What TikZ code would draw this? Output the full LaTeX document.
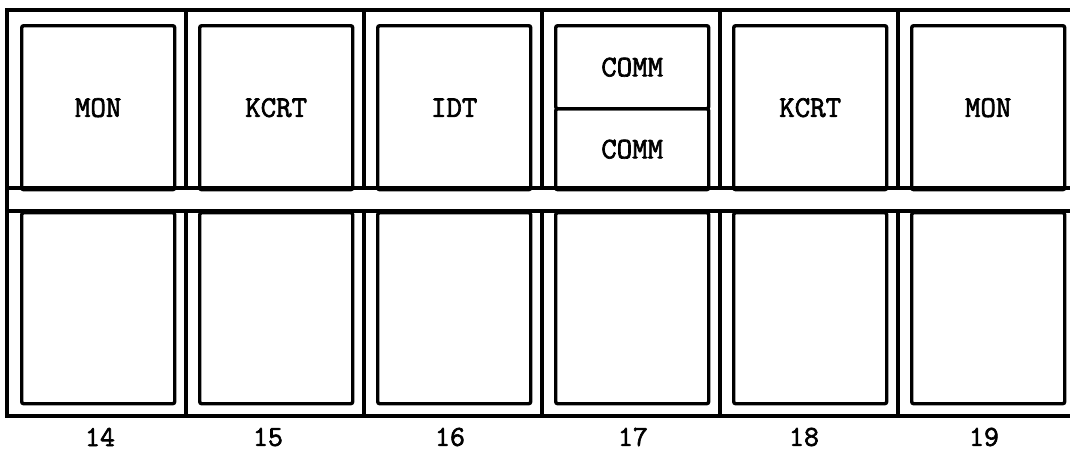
\documentclass[tikz,border=0pt]{standalone}
\usepackage{fontspec}
\newfontfamily\typefont{Latin Modern Mono}[FakeBold=2.2]
\tikzset{
  frameline/.style={line width=3.4pt, line cap=round},
  unitbox/.style={draw, line width=3.4pt, rounded corners=2pt, anchor=north west,
    minimum width=153pt, inner sep=0pt, font=\typefont\fontsize{30}{30}\selectfont},
  numlabel/.style={font=\typefont\fontsize{29}{29}\selectfont, inner sep=0pt}
}
\begin{document}
\begin{tikzpicture}[x=1pt,y=-1pt]
\useasboundingbox (0,0) rectangle (1070,455);
% frame corners
\coordinate (tl) at (7,10);
\coordinate (tr) at (1072,10);
\coordinate (bl) at (7,416);
\coordinate (br) at (1072,416);
\coordinate (m1l) at (7,188);
\coordinate (m1r) at (1072,188);
\coordinate (m2l) at (7,211);
\coordinate (m2r) at (1072,211);
\draw[frameline] (tr) -- (tl) -- (bl) -- (br);
\draw[frameline] (m1l) -- (m1r);
\draw[frameline] (m2l) -- (m2r);
% column dividers
\foreach \x [count=\i] in {186,364,542,720,898}{
  \coordinate (d\i a) at (\x,10);
  \coordinate (d\i b) at (\x,188);
  \coordinate (d\i c) at (\x,211);
  \coordinate (d\i d) at (\x,416);
  \draw[frameline] (d\i a) -- (d\i b);
  \draw[frameline] (d\i c) -- (d\i d);
}
% top row units
\node[unitbox, minimum height=164pt] (t14) at (20,24) {MON};
\node[unitbox, minimum height=164pt] (t15) at (198,24) {KCRT};
\node[unitbox, minimum height=164pt] (t16) at (376,24) {IDT};
\node[unitbox, minimum height=83pt] (t17a) at (554,24) {COMM};
\node[unitbox, minimum height=81pt] (t17b) at (554,107) {COMM};
\node[unitbox, minimum height=164pt] (t18) at (732,24) {KCRT};
\node[unitbox, minimum height=164pt] (t19) at (910,24) {MON};
% bottom row units
\foreach \x/\n in {20/14,198/15,376/16,554/17,732/18,910/19}{
  \node[unitbox, minimum height=191pt] (b\n) at (\x,211) {};
}
% column numbers
\node[numlabel] (n14) at (100,437) {14};
\node[numlabel] (n15) at (268,437) {15};
\node[numlabel] (n16) at (450,437) {16};
\node[numlabel] (n17) at (633,437) {17};
\node[numlabel] (n18) at (804,437) {18};
\node[numlabel] (n19) at (984,437) {19};
\end{tikzpicture}
\end{document}
